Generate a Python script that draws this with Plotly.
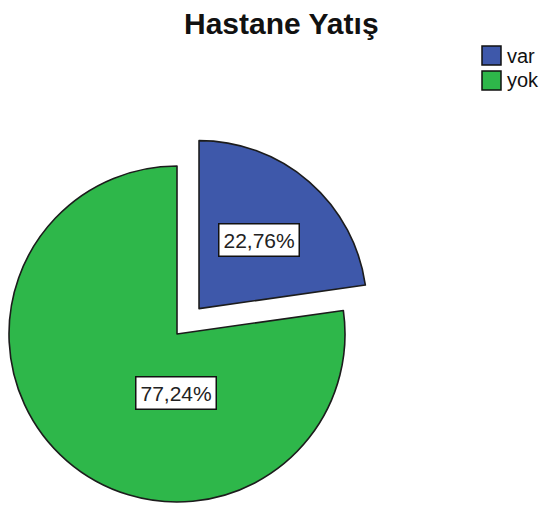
import math
import plotly.graph_objects as go

# Share of patients by hospital admission status
categories = ["var", "yok"]
percentages = [22.76, 77.24]
slice_colors = ["#3E58AA", "#2EB74A"]
exploded = "var"

W, H = 542, 509
CX, CY, R = 177, 334, 168      # pie centre and radius in pixels
PULL = 0.2                     # explode distance as a fraction of the radius
CLEAR = "rgba(0,0,0,0)"
OUTLINE = "#1c1c1c"


def pie_domain(cx, cy, r):
    return dict(x=[(cx - r) / W, (cx + r) / W],
                y=[(H - (cy + r)) / H, (H - (cy - r)) / H])


def mid_angle(idx):
    total = sum(percentages)
    start = sum(percentages[:idx]) / total * 360
    return start + percentages[idx] / total * 180   # clockwise from 12 o'clock


fig = go.Figure()
ex_idx = categories.index(exploded)

# the unexploded slices, drawn around the main centre
fig.add_trace(go.Pie(
    labels=categories, values=percentages, sort=False, direction="clockwise",
    rotation=0, domain=pie_domain(CX, CY, R), textinfo="none", hoverinfo="skip",
    showlegend=False,
    marker=dict(colors=[CLEAR if c == exploded else col
                        for c, col in zip(categories, slice_colors)],
                line=dict(color=OUTLINE,
                          width=[0 if c == exploded else 1.6 for c in categories])),
))

# the exploded slice, shifted outward along its bisector
a = math.radians(mid_angle(ex_idx))
ecx = CX + PULL * R * math.sin(a)
ecy = CY - PULL * R * math.cos(a)
fig.add_trace(go.Pie(
    labels=categories, values=percentages, sort=False, direction="clockwise",
    rotation=0, domain=pie_domain(ecx, ecy, R), textinfo="none", hoverinfo="skip",
    showlegend=False,
    marker=dict(colors=[col if c == exploded else CLEAR
                        for c, col in zip(categories, slice_colors)],
                line=dict(color=OUTLINE,
                          width=[1.6 if c == exploded else 0 for c in categories])),
))

# boxed percentage labels (angle from 12 o'clock, distance as fraction of R)
label_place = {"var": (None, 0.54), "yok": (180.5, 0.35)}
annotations = []
for i, c in enumerate(categories):
    ang, frac = label_place[c]
    if ang is None:
        ang = mid_angle(i)
    cx0, cy0 = (ecx, ecy) if c == exploded else (CX, CY)
    t = math.radians(ang)
    px = cx0 + frac * R * math.sin(t)
    py = cy0 - frac * R * math.cos(t)
    txt = f"{percentages[i]:.2f}".replace(".", ",") + "%"
    annotations.append(dict(
        x=px / W, y=1 - py / H, xref="paper", yref="paper", text=txt,
        xanchor="center", yanchor="middle",
        showarrow=False, bgcolor="white", bordercolor="#111", borderwidth=1.5,
        borderpad=4, font=dict(family="Liberation Sans, Arial", size=21, color="#222"),
    ))

# legend: swatches with labels at the top right
shapes = []
for i, c in enumerate(categories):
    top = 46 + i * 25
    shapes.append(dict(type="rect", xref="paper", yref="paper",
                       x0=482 / W, x1=501 / W, y0=1 - (top + 19) / H, y1=1 - top / H,
                       fillcolor=slice_colors[i], line=dict(color="#111", width=1.5)))
    annotations.append(dict(
        x=505 / W, y=1 - (top + 9.5) / H, xref="paper", yref="paper", text=c,
        xanchor="left", yanchor="middle", showarrow=False,
        font=dict(family="Liberation Sans, Arial", size=20, color="#111"),
    ))

annotations.append(dict(
    x=282 / W, y=1 - 23 / H, xref="paper", yref="paper", text="<b>Hastane Yatış</b>",
    xanchor="center", yanchor="middle", showarrow=False,
    font=dict(family="Liberation Sans, Arial", size=30, color="#111"),
))

fig.update_layout(
    width=W, height=H, margin=dict(l=0, r=0, t=0, b=0),
    paper_bgcolor="white", plot_bgcolor="white",
    annotations=annotations, shapes=shapes,
)

fig.write_html("out.html")
